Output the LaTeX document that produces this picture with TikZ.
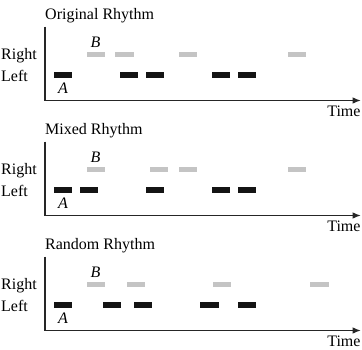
\documentclass[tikz,border=0pt]{standalone}
\usepackage{fontspec}
\setmainfont{Liberation Serif}
\usetikzlibrary{arrows.meta}

\definecolor{rightgray}{HTML}{C4C4C4}
\definecolor{leftblack}{HTML}{141414}

\tikzset{
  rbar/.style={fill=rightgray, draw=none, minimum width=18.3pt,
    minimum height=5pt, inner sep=0pt, anchor=west},
  lbar/.style={fill=leftblack, draw=none, minimum width=18.3pt,
    minimum height=6pt, inner sep=0pt, anchor=west},
  axisline/.style={line width=1.1pt, draw=black!85, line join=miter,
    -{Latex[length=8pt,width=6.5pt]}},
  lbl/.style={font=\fontsize{16}{18}\selectfont, inner sep=0pt},
  mark lbl/.style={lbl, font=\fontsize{16}{18}\selectfont\itshape, anchor=base},
}

% One rhythm panel: #1 name prefix, #2 vertical offset, #3 title,
% #4 onsets of the right-hand (grey) beats, #5 onsets of the left-hand (black) beats
\newcommand\rhythmpanel[5]{%
  \begin{scope}[yshift=-#2pt]
    \node[lbl, anchor=base west] (#1title) at (45,19) {#3};
    \node[lbl, anchor=base west] (#1right) at (1,59.5) {Right};
    \node[lbl, anchor=base west] (#1left) at (1,81.5) {Left};
    \coordinate (#1top) at (45,26.7);
    \coordinate (#1origin) at (45,100.5);
    \coordinate (#1end) at (360.7,100.5);
    \draw[axisline] (#1top) -- (#1origin) -- (#1end);
    \node[lbl, anchor=base east] (#1time) at (360.7,116.5) {Time};
    \foreach \t [count=\i] in {#4} {\node[rbar] (#1r\i) at (\t,54.5) {};}
    \foreach \t [count=\i] in {#5} {\node[lbar] (#1l\i) at (\t,75.3) {};}
    \node[mark lbl] (#1B) at (95.5,47.5) {B};
    \node[mark lbl] (#1A) at (63,93.3) {A};
  \end{scope}}

\begin{document}
\begin{tikzpicture}[x=1pt,y=-1pt]
  \useasboundingbox (0,0) rectangle (362,349);
  \rhythmpanel{orig}{0}{Original Rhythm}{86.7,115,178.3,287.3}{53.3,119.3,145.3,211.7,237.3}
  \rhythmpanel{mixed}{115}{Mixed Rhythm}{86.7,149.3,178.3,287.3}{53.3,79.3,145.3,211.7,237.3}
  \rhythmpanel{rand}{230}{Random Rhythm}{86.7,126.7,212.7,310}{53.3,102.3,133.7,200,237.3}
\end{tikzpicture}
\end{document}
